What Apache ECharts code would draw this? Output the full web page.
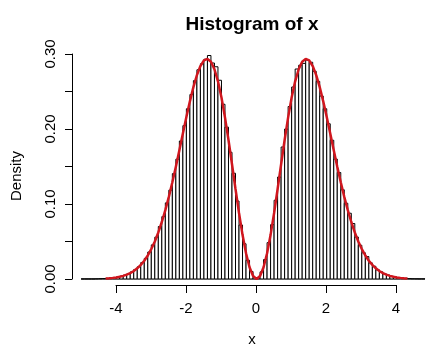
<!DOCTYPE html>
<html>
<head>
<meta charset="utf-8">
<script src="https://cdn.jsdelivr.net/npm/echarts@6/dist/echarts.min.js"></script>
<style>
html,body{margin:0;padding:0;background:#fff;}
#chart{width:436px;height:354px;}
</style>
</head>
<body>
<div id="chart"></div>
<script>
// Histogram bin edges
const breaks = [-5.0,-4.9,-4.8,-4.7,-4.6,-4.5,-4.4,-4.3,-4.2,-4.1,-4.0,-3.9,-3.8,-3.7,-3.6,-3.5,-3.4,-3.3,-3.2,-3.1,
  -3.0,-2.9,-2.8,-2.7,-2.6,-2.5,-2.4,-2.3,-2.2,-2.1,-2.0,-1.9,-1.8,-1.7,-1.6,-1.5,-1.4,-1.3,-1.2,-1.1,
  -1.0,-0.9,-0.8,-0.7,-0.6,-0.5,-0.4,-0.3,-0.2,-0.1,0.0,0.1,0.2,0.3,0.4,0.5,0.6,0.7,0.8,0.9,
  1.0,1.1,1.2,1.3,1.4,1.5,1.6,1.7,1.8,1.9,2.0,2.1,2.2,2.3,2.4,2.5,2.6,2.7,2.8,2.9,
  3.0,3.1,3.2,3.3,3.4,3.5,3.6,3.7,3.8,3.9,4.0,4.1,4.2,4.3,4.4,4.5,4.6,4.7,4.8];
// Density of each bin
const density = [0,0,0,0,0.0002,0.0004,0.0006,0.0009,0.0012,0.0019,
  0.0026,0.0037,0.0051,0.0068,0.0094,0.0127,0.0163,0.0219,0.0275,0.0360,
  0.0455,0.0558,0.0700,0.0832,0.1015,0.1185,0.1405,0.1598,0.1840,0.2045,
  0.2270,0.2460,0.2645,0.2790,0.2870,0.2930,0.2980,0.2880,0.2830,0.2650,
  0.2330,0.2025,0.1690,0.1410,0.1040,0.0720,0.0470,0.0250,0.0100,0.0020,
  0.0018,0.0095,0.0260,0.0485,0.0725,0.1050,0.1360,0.1760,0.2000,0.2300,
  0.2560,0.2800,0.2850,0.2875,0.2920,0.2890,0.2770,0.2635,0.2440,0.2270,
  0.2070,0.1850,0.1600,0.1420,0.1190,0.1010,0.0877,0.0740,0.0560,0.0450,
  0.0350,0.0300,0.0215,0.0170,0.0122,0.0095,0.0068,0.0052,0.0035,0.0027,
  0.0017,0.0012,0.0009,0.0005,0.0003,0.0002,0.0001,0.0001];
// Red density curve
const curveX = [-4.3,-4.2,-4.1,-4.0,-3.9,-3.8,-3.7,-3.6,-3.5,-3.4,-3.3,-3.2,-3.1,-3.0,-2.9,-2.8,-2.7,-2.6,-2.5,-2.4,
  -2.3,-2.2,-2.1,-2.0,-1.9,-1.8,-1.7,-1.6,-1.5,-1.4,-1.3,-1.2,-1.1,-1.0,-0.9,-0.8,-0.7,-0.6,-0.5,-0.4,
  -0.3,-0.2,-0.1,0.0,0.1,0.2,0.3,0.4,0.5,0.6,0.7,0.8,0.9,1.0,1.1,1.2,1.3,1.4,1.5,1.6,
  1.7,1.8,1.9,2.0,2.1,2.2,2.3,2.4,2.5,2.6,2.7,2.8,2.9,3.0,3.1,3.2,3.3,3.4,3.5,3.6,
  3.7,3.8,3.9,4.0,4.1,4.2,4.3];
const curveY = [0.0007,0.0010,0.0015,0.0021,0.0030,0.0042,0.0058,0.0079,0.0107,0.0142,0.0188,0.0244,0.0314,0.0399,0.0501,0.0621,0.0760,0.0918,0.1095,0.1290,
  0.1498,0.1717,0.1941,0.2160,0.2369,0.2558,0.2718,0.2839,0.2915,0.2935,0.2897,0.2797,0.2636,0.2420,0.2155,0.1854,0.1530,0.1200,0.0880,0.0589,
  0.0343,0.0156,0.0040,0.0,0.0040,0.0156,0.0343,0.0589,0.0880,0.1200,0.1530,0.1854,0.2155,0.2420,0.2636,0.2797,0.2897,0.2935,0.2915,0.2839,
  0.2718,0.2558,0.2369,0.2160,0.1941,0.1717,0.1498,0.1290,0.1095,0.0918,0.0760,0.0621,0.0501,0.0399,0.0314,0.0244,0.0188,0.0142,0.0107,0.0079,
  0.0058,0.0042,0.0030,0.0021,0.0015,0.0010,0.0007];
const xTicks = [-4, -2, 0, 2, 4];
const yTickLabels = ['0.00', '0.10', '0.20', '0.30'];
const titleText = 'Histogram of x';
const xLabel = 'x';
const yLabel = 'Density';

const histData = density.map((d, i) => [breaks[i], breaks[i + 1], d]);
const curveData = curveX.map((x, i) => [x, curveY[i]]);
const baseData = [[breaks[0], 0], [breaks[breaks.length - 1], 0]];

const FONT = '"Liberation Sans", Arial, sans-serif';
const chart = echarts.init(document.getElementById('chart'), null, {renderer: 'canvas'});
chart.setOption({
  backgroundColor: '#ffffff',
  animation: false,
  grid: [
    {left: 72, right: 4, top: 54, bottom: 75, containLabel: false, outerBoundsMode: 'none'},
    {left: 116, right: 40, top: 284, height: 1, containLabel: false, outerBoundsMode: 'none'}
  ],
  xAxis: [
    {type: 'value', gridIndex: 0, min: -5.26, max: 5.0, show: false},
    {type: 'value', gridIndex: 1, min: xTicks[0], max: xTicks[xTicks.length - 1], interval: 2,
      axisLine: {show: true, onZero: false, lineStyle: {color: '#000', width: 1}},
      axisTick: {show: true, length: 8, lineStyle: {color: '#000', width: 1}},
      axisLabel: {show: true, color: '#000', fontSize: 15, fontFamily: FONT, margin: 16,
        formatter: v => String(v)},
      splitLine: {show: false}}
  ],
  yAxis: [
    {type: 'value', gridIndex: 0, min: 0, max: 0.3, interval: 0.05,
      axisLine: {show: true, onZero: false, lineStyle: {color: '#000', width: 1}},
      axisTick: {show: true, length: 7, lineStyle: {color: '#000', width: 1}},
      axisLabel: {show: true, color: '#000', fontSize: 15, fontFamily: FONT, rotate: 90, margin: 14,
        formatter: v => {
          const k = Math.round(v * 100);
          return k % 10 === 0 ? yTickLabels[k / 10] : '';
        }},
      splitLine: {show: false}},
    {type: 'value', gridIndex: 1, show: false}
  ],
  series: [
    {type: 'line', xAxisIndex: 0, yAxisIndex: 0, data: baseData, showSymbol: false,
      lineStyle: {color: '#000', width: 1}, silent: true, z: 1},
    {type: 'custom', xAxisIndex: 0, yAxisIndex: 0, data: histData, z: 2,
      encode: {x: [0, 1], y: 2},
      renderItem: (params, api) => {
        const p0 = api.coord([api.value(0), api.value(2)]);
        const p1 = api.coord([api.value(1), 0]);
        return {type: 'rect',
          shape: {x: p0[0], y: p0[1], width: p1[0] - p0[0], height: p1[1] - p0[1]},
          style: {fill: '#ffffff', stroke: '#000000', lineWidth: 1}};
      }},
    {type: 'line', xAxisIndex: 0, yAxisIndex: 0, data: curveData, showSymbol: false, smooth: false,
      lineStyle: {color: '#d0161e', width: 2.5}, z: 3}
  ],
  graphic: [
    {type: 'text', x: 252, y: 25, style: {text: titleText, fontSize: 19, fontWeight: 'bold', fontFamily: FONT,
      fill: '#000', textAlign: 'center', textVerticalAlign: 'middle'}},
    {type: 'text', x: 252, y: 340, style: {text: xLabel, fontSize: 15, fontFamily: FONT,
      fill: '#000', textAlign: 'center', textVerticalAlign: 'middle'}},
    {type: 'text', x: 17, y: 176, rotation: Math.PI / 2, style: {text: yLabel, fontSize: 15, fontFamily: FONT,
      fill: '#000', textAlign: 'center', textVerticalAlign: 'middle'}}
  ]
});
</script>
</body>
</html>
